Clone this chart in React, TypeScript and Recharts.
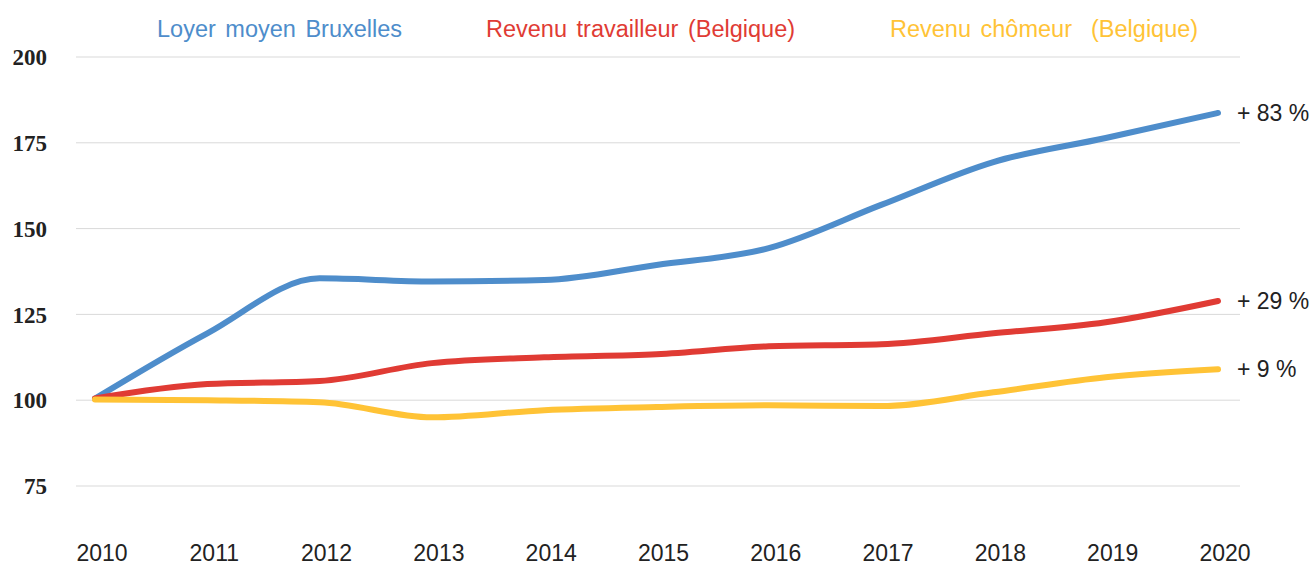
import { LineChart, Line, XAxis, YAxis, CartesianGrid, Legend } from 'recharts'

const years = ['2010', '2011', '2012', '2013', '2014', '2015', '2016', '2017', '2018', '2019', '2020']
const loyer = [100.5, 119.5, 135.5, 134.6, 135, 139.4, 144.3, 156.9, 169.4, 176.4, 183.7]
const travailleur = [100.5, 104.7, 105.6, 110.8, 112.5, 113.4, 115.7, 116.3, 119.5, 122.7, 128.9]
const chomeur = [100.2, 100, 99.4, 95, 97.1, 98, 98.5, 98.3, 102.3, 106.7, 109]
const yTicks = [75, 100, 125, 150, 175, 200]
const endLabels = ['+ 83 %', '+ 29 %', '+ 9 %']

const series = [
  { key: 'loyer', name: 'Loyer moyen Bruxelles', color: '#4E8DCB' },
  { key: 'travailleur', name: 'Revenu travailleur (Belgique)', color: '#E03B34' },
  { key: 'chomeur', name: 'Revenu chômeur  (Belgique)', color: '#FFC336' },
]

const data = years.map((year, i) => ({
  year,
  loyer: loyer[i],
  travailleur: travailleur[i],
  chomeur: chomeur[i],
}))

const legendLeft = [157, 486, 890]
const sans = '"Liberation Sans", Arial, sans-serif'

const renderLegend = (props: any) => (
  <div style={{ position: 'relative', height: 50 }}>
    {(props.payload || []).map((entry: any) => {
      const i = series.findIndex((s) => s.name === entry.value)
      return (
        <span
          key={entry.value}
          style={{
            position: 'absolute',
            left: legendLeft[i],
            top: 8,
            fontFamily: sans,
            fontSize: 23.5,
            lineHeight: '28px',
            color: series[i].color,
            whiteSpace: 'pre',
            wordSpacing: 3,
          }}
        >
          {entry.value}
        </span>
      )
    })}
  </div>
)

const endLabel = (text: string) => (props: any) => {
  if (props.index !== years.length - 1) return null
  return (
    <text x={props.x + 19} y={props.y} dy={8} fontFamily={sans} fontSize={23} fill="#222">
      {text}
    </text>
  )
}

export default function App() {
  return (
    <>
      <style>{'body{margin:0}'}</style>
      <LineChart width={1312} height={568} data={data} margin={{ top: 7, right: 72, left: 0, bottom: 0 }}>
        <CartesianGrid vertical={false} stroke="#d9d9d9" />
        <XAxis
          dataKey="year"
          padding={{ left: 19, right: 22 }}
          axisLine={false}
          tickLine={false}
          tickSize={0}
          tickMargin={59}
          height={82}
          tick={{ fontSize: 23, fill: '#222', fontFamily: sans, dx: 7 }}
        />
        <YAxis
          domain={[75, 200]}
          ticks={yTicks}
          width={76}
          axisLine={false}
          tickLine={false}
          tickSize={0}
          tickMargin={29}
          tick={{ fontSize: 23, fill: '#222', fontWeight: 'bold', fontFamily: '"Liberation Serif", "Times New Roman", serif' }}
        />
        <Legend verticalAlign="top" wrapperStyle={{ left: 0, width: 1312 }} content={renderLegend} />
        {series.map((s, i) => (
          <Line
            key={s.key}
            type="monotone"
            dataKey={s.key}
            name={s.name}
            stroke={s.color}
            strokeWidth={6}
            strokeLinecap="round"
            dot={false}
            activeDot={false}
            isAnimationActive={false}
            label={endLabel(endLabels[i])}
          />
        ))}
      </LineChart>
    </>
  )
}
